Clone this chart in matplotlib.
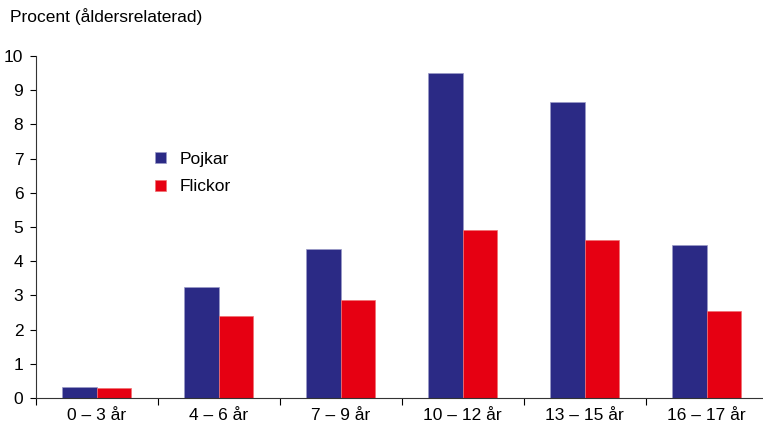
import matplotlib.pyplot as plt
import numpy as np

plt.rcParams['font.family'] = ['Liberation Sans', 'DejaVu Sans']

categories = ['0 – 3 år', '4 – 6 år', '7 – 9 år', '10 – 12 år', '13 – 15 år', '16 – 17 år']
pojkar = [0.33, 3.25, 4.36, 9.51, 8.65, 4.47]
flickor = [0.28, 2.40, 2.87, 4.90, 4.62, 2.54]

blue = '#2B2A85'
red = '#E60012'

fig = plt.figure(figsize=(7.63, 4.25), dpi=100)
ax = fig.add_axes([0.047, 0.0635, 0.959, 0.805])

x = np.arange(len(categories))
w = 0.283
ax.bar(x - w / 2, pojkar, w, color=blue, edgecolor='#9a9ac8', linewidth=0.5, label='Pojkar')
ax.bar(x + w / 2, flickor, w, color=red, edgecolor='#f07070', linewidth=0.5, label='Flickor')

ax.set_xlim(-0.5, len(categories) - 0.5)
ax.set_ylim(0, 10)
ax.set_yticks(range(0, 11))
ax.tick_params(axis='y', direction='out', length=4, labelsize=12.5, pad=5)

# boundaries get tick marks, centres get labels
ax.set_xticks(np.arange(len(categories) + 1) - 0.5)
ax.set_xticklabels([])
ax.set_xticks(x, minor=True)
ax.set_xticklabels(categories, minor=True)
ax.tick_params(axis='x', which='major', direction='out', length=5)
ax.tick_params(axis='x', which='minor', length=0, labelsize=12.5, pad=7)

for s in ['top', 'right']:
    ax.spines[s].set_visible(False)
ax.spines['left'].set_color('#333333')
ax.spines['bottom'].set_color('#333333')

ax.text(-0.035, 1.09, 'Procent (åldersrelaterad)', transform=ax.transAxes,
        fontsize=12.5, ha='left', va='bottom')

ax.legend(loc='upper left', bbox_to_anchor=(0.142, 0.765), frameon=False,
          fontsize=12.5, handlelength=0.63, handleheight=0.63, labelspacing=0.72,
          handletextpad=0.75)

fig.savefig('out.png', dpi=100)
